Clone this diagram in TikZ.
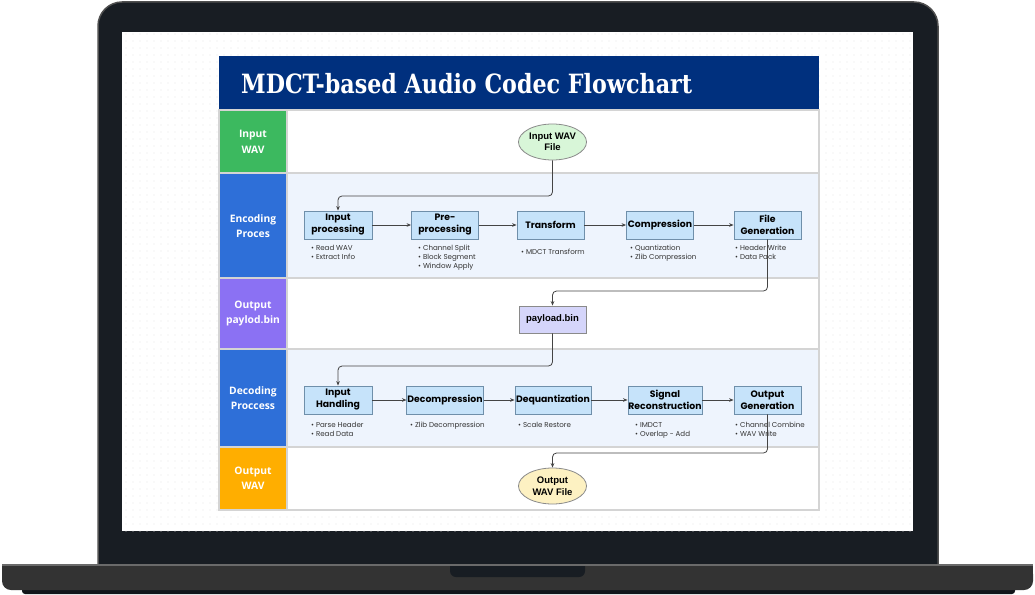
\documentclass[tikz,border=0pt]{standalone}
\usepackage{fontspec}
\usepackage{graphicx}
\setmainfont{Poppins}
\newfontfamily\lanefont{Open Sans}
\newfontfamily\titlefont{DejaVu Serif}
\newfontfamily\arialfont{Liberation Sans}
\usetikzlibrary{arrows.meta,patterns,shapes.geometric}
\definecolor{lidc}{HTML}{181D23}
\definecolor{lidedge}{HTML}{4F4F4F}
\definecolor{basec}{HTML}{333333}
\definecolor{baseedge}{HTML}{6A6A6A}
\definecolor{shadowc}{HTML}{11151A}
\definecolor{dotc}{HTML}{E8E8E8}
\definecolor{navy}{HTML}{00307E}
\definecolor{lgreen}{HTML}{3CB95F}
\definecolor{lblue}{HTML}{2E6FD8}
\definecolor{lpurple}{HTML}{8B71F3}
\definecolor{lorange}{HTML}{FFAE00}
\definecolor{encbg}{HTML}{EEF4FD}
\definecolor{sepc}{HTML}{D4D4D4}
\definecolor{boxfill}{HTML}{C6E3FA}
\definecolor{boxedge}{HTML}{6F8FAA}
\definecolor{payfill}{HTML}{D5D5FA}
\definecolor{greenell}{HTML}{D8F6D8}
\definecolor{yellowell}{HTML}{FDF1C2}
\definecolor{elledge}{HTML}{8A8A8A}
\definecolor{connc}{HTML}{444444}
\definecolor{bulc}{HTML}{333333}
\pgfdeclarepatternformonly{screendots}{\pgfqpoint{-1pt}{-1pt}}{\pgfqpoint{1pt}{1pt}}{\pgfqpoint{7pt}{7pt}}{\pgfpathcircle{\pgfqpoint{0pt}{0pt}}{0.7pt}\pgfusepath{fill}}
\begin{document}
\begin{tikzpicture}[x=1pt,y=-1pt,
  stepbox/.style={draw=boxedge, fill=boxfill, line width=0.8pt, minimum height=28pt, inner sep=0.5pt, align=center, font=\fontsize{9.3}{12}\selectfont\bfseries},
  paybox/.style={draw=elledge, fill=payfill, line width=0.8pt, minimum width=67pt, minimum height=27pt, inner sep=1pt, font=\arialfont\bfseries\fontsize{9.5}{11.5}\selectfont},
  fileell/.style={ellipse, draw=elledge, line width=0.8pt, minimum width=68pt, minimum height=36pt, inner sep=0pt, align=center, font=\arialfont\bfseries\fontsize{9.5}{11.5}\selectfont},
  bullettext/.style={anchor=north west, inner sep=0pt, align=left, text=bulc, font=\fontsize{7.1}{9}\selectfont},
  lanelabel/.style={text=white, align=center, inner sep=0pt, font=\lanefont\bfseries\fontsize{10.3}{15.5}\selectfont},
  lanerect/.style={draw=sepc, line width=1.3pt},
  conn/.style={draw=connc, line width=0.8pt, -{Stealth[length=4.5pt,width=3.6pt]}},
  elbow/.style={conn, rounded corners=4pt}]
\useasboundingbox (0,0) rectangle (1035,594);
% ---------- laptop ----------
\filldraw[fill=lidc, draw=lidedge, line width=1.5pt, rounded corners=24pt] (98,2) rectangle (938,590);
\fill[white] (122,32) rectangle (913,531);
\fill[pattern=screendots, pattern color=dotc] (122,32) rectangle (913,531);
\fill[shadowc, rounded corners=3pt] (22,584) rectangle (1015,594);
\fill[basec, rounded corners=9pt] (2,565) rectangle (1033,590);
\fill[basec] (2,565) rectangle (1033,576);
\fill[lidc, rounded corners=6pt] (450,556) rectangle (585,577);
\draw[baseedge, line width=1.2pt] (2,565) -- (1033,565);
% ---------- diagram frame ----------
\fill[white] (219,56) rectangle (819,510);
\fill[navy] (219,56) rectangle (819,110);
\node[anchor=base west, inner sep=0pt, text=white] (title) at (241,93)
  {\resizebox{451pt}{\height}{\titlefont\bfseries\fontsize{26.5}{30}\selectfont MDCT-based Audio Codec Flowchart}};
% lanes
\filldraw[lanerect, fill=white] (287,110) rectangle (819,173);
\filldraw[lanerect, fill=encbg] (287,173) rectangle (819,278);
\filldraw[lanerect, fill=white] (287,278) rectangle (819,349);
\filldraw[lanerect, fill=encbg] (287,349) rectangle (819,447);
\filldraw[lanerect, fill=white] (287,447) rectangle (819,510);
\filldraw[lanerect, fill=lgreen] (219,110) rectangle (287,173);
\filldraw[lanerect, fill=lblue] (219,173) rectangle (287,278);
\filldraw[lanerect, fill=lpurple] (219,278) rectangle (287,349);
\filldraw[lanerect, fill=lblue] (219,349) rectangle (287,447);
\filldraw[lanerect, fill=lorange] (219,447) rectangle (287,510);
\node[lanelabel] (L1) at (253,142) {Input\\WAV};
\node[lanelabel] (L2) at (253,226) {Encoding\\Proces};
\node[lanelabel] (L3) at (253,313.5) {Output\\paylod.bin};
\node[lanelabel] (L4) at (253,398) {Decoding\\Proccess};
\node[lanelabel] (L5) at (253,478.5) {Output\\WAV};
% ---------- nodes ----------
\node[fileell, fill=greenell] (inwav) at (552.5,142) {Input WAV\\File};
\node[stepbox, minimum width=68pt] (inproc) at (338,225) {Input\\processing};
\node[stepbox, minimum width=67pt] (preproc) at (445,225) {Pre-\\processing};
\node[stepbox, minimum width=67pt] (transf) at (550.5,225) {Transform};
\node[stepbox, minimum width=67pt] (compr) at (660,225) {Compression};
\node[stepbox, minimum width=67pt] (filegen) at (767.5,225) {File\\Generation};
\node[paybox] (payload) at (552.5,319.5) {payload.bin};
\node[stepbox, minimum width=68pt] (inhand) at (338,400) {Input\\Handling};
\node[stepbox, minimum width=76pt] (decomp) at (445,400) {Decompression};
\node[stepbox, minimum width=76pt] (dequant) at (553,400) {Dequantization};
\node[stepbox, minimum width=74pt] (sigrec) at (665,400) {Signal\\Reconstruction};
\node[stepbox, minimum width=67pt] (outgen) at (767.5,400) {Output\\Generation};
\node[fileell, fill=yellowell] (outwav) at (552.5,486) {Output\\WAV File};
% bullets
\node[bullettext] (b1) at (311,245.2) {\textbullet\ Read WAV\\\textbullet\ Extract Info};
\node[bullettext] (b2) at (418,245.2) {\textbullet\ Channel Split\\\textbullet\ Block Segment\\\textbullet\ Window Apply};
\node[bullettext] (b3) at (521,249.2) {\textbullet\ MDCT Transform};
\node[bullettext] (b4) at (630,245.2) {\textbullet\ Quantization\\\textbullet\ Zlib Compression};
\node[bullettext] (b5) at (735,245.2) {\textbullet\ Header Write\\\textbullet\ Data Pack};
\node[bullettext] (b6) at (311,422.2) {\textbullet\ Parse Header\\\textbullet\ Read Data};
\node[bullettext] (b7) at (410,422.2) {\textbullet\ Zlib Decompression};
\node[bullettext] (b8) at (518,422.2) {\textbullet\ Scale Restore};
\node[bullettext] (b9) at (635,422.2) {\textbullet\ IMDCT\\\textbullet\ Overlap - Add};
\node[bullettext] (b10) at (735,422.2) {\textbullet\ Channel Combine\\\textbullet\ WAV Write};
% ---------- connectors ----------
\coordinate (j1) at (552.5,196);
\coordinate (j2) at (767.5,291);
\coordinate (j3) at (552.5,366);
\coordinate (j4) at (767.5,453);
\draw[elbow] (inwav.south) -- (j1) -| (inproc.north);
\draw[conn] (inproc) -- (preproc);
\draw[conn] (preproc) -- (transf);
\draw[conn] (transf) -- (compr);
\draw[conn] (compr) -- (filegen);
\draw[elbow] (filegen.south) -- (j2) -| (payload.north);
\draw[elbow] (payload.south) -- (j3) -| (inhand.north);
\draw[conn] (inhand) -- (decomp);
\draw[conn] (decomp) -- (dequant);
\draw[conn] (dequant) -- (sigrec);
\draw[conn] (sigrec) -- (outgen);
\draw[elbow] (outgen.south) -- (j4) -| (outwav.north);
\end{tikzpicture}
\end{document}
